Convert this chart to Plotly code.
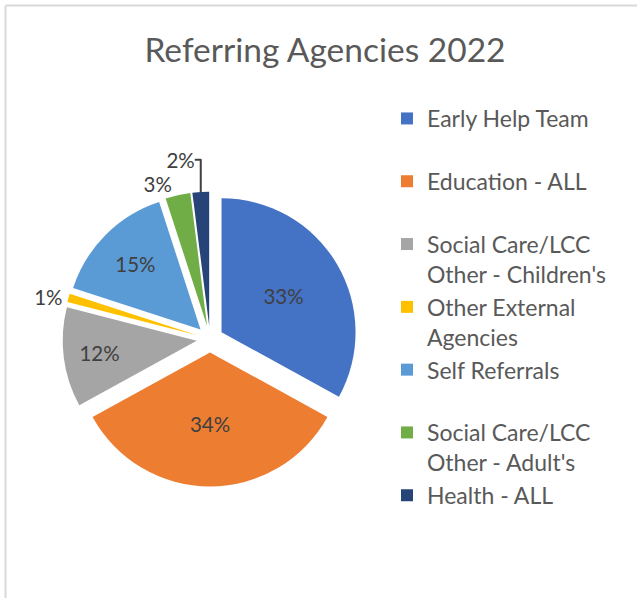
import plotly.graph_objects as go

categories = ["Early Help Team", "Education - ALL", "Social Care/LCC<br>Other - Children's",
              "Other External<br>Agencies", "Self Referrals", "Social Care/LCC<br>Other - Adult's",
              "Health - ALL"]
legend_labels = ["Early Help Team<br> ", "Education - ALL<br> ", "Social Care/LCC<br>Other - Children's",
                 "Other External<br>Agencies", "Self Referrals<br> ", "Social Care/LCC<br>Other - Adult's",
                 "Health - ALL<br> "]
values = [33, 34, 12, 1, 15, 3, 2]
colors = ["#4472C4", "#ED7D31", "#A5A5A5", "#FFC000", "#5B9BD5", "#70AD47", "#264478"]

W, H = 637, 598
cx, cy, r, pull = 210, 339, 134, 0.1
half = r * (1 + pull)

fig = go.Figure(go.Pie(
    labels=legend_labels,
    values=values,
    sort=False,
    direction="clockwise",
    rotation=0,
    pull=[pull] * len(values),
    marker=dict(colors=colors, line=dict(width=0)),
    textinfo="percent",
    textposition=["inside", "inside", "inside", "outside", "inside", "outside", "outside"],
    insidetextorientation="horizontal",
    textfont=dict(family="Lato", size=20.5, color="#404040"),
    outsidetextfont=dict(family="Lato", size=20.5, color="#404040"),
    domain=dict(x=[(cx - half) / W, (cx + half) / W], y=[(H - cy - half) / H, (H - cy + half) / H]),
    hoverinfo="label+percent",
))

fig.update_layout(
    width=W, height=H,
    margin=dict(l=0, r=0, t=0, b=0),
    paper_bgcolor="white",
    font=dict(family="Lato", color="#595959"),
    title=dict(text="Referring Agencies 2022", x=325 / W, xanchor="center",
               y=1 - 50 / H, yanchor="middle", yref="container",
               font=dict(family="Lato", size=33.5, color="#595959")),
    legend=dict(x=387 / W, y=1 - 97 / H, xanchor="left", yanchor="top",
                font=dict(family="Lato", size=23, color="#595959"),
                valign="top", itemwidth=30, tracegroupgap=0),
    shapes=[
        dict(type="line", xref="paper", yref="paper", x0=5.5 / W, x1=1, y0=1 - 5.5 / H, y1=1 - 5.5 / H,
             line=dict(color="#D9D9D9", width=2)),
        dict(type="line", xref="paper", yref="paper", x0=5.5 / W, x1=5.5 / W, y0=0, y1=1 - 5.5 / H,
             line=dict(color="#D9D9D9", width=2)),
    ],
)

fig.write_html("out.html", config={"displayModeBar": False},
               post_script="document.body.style.margin='0';")
